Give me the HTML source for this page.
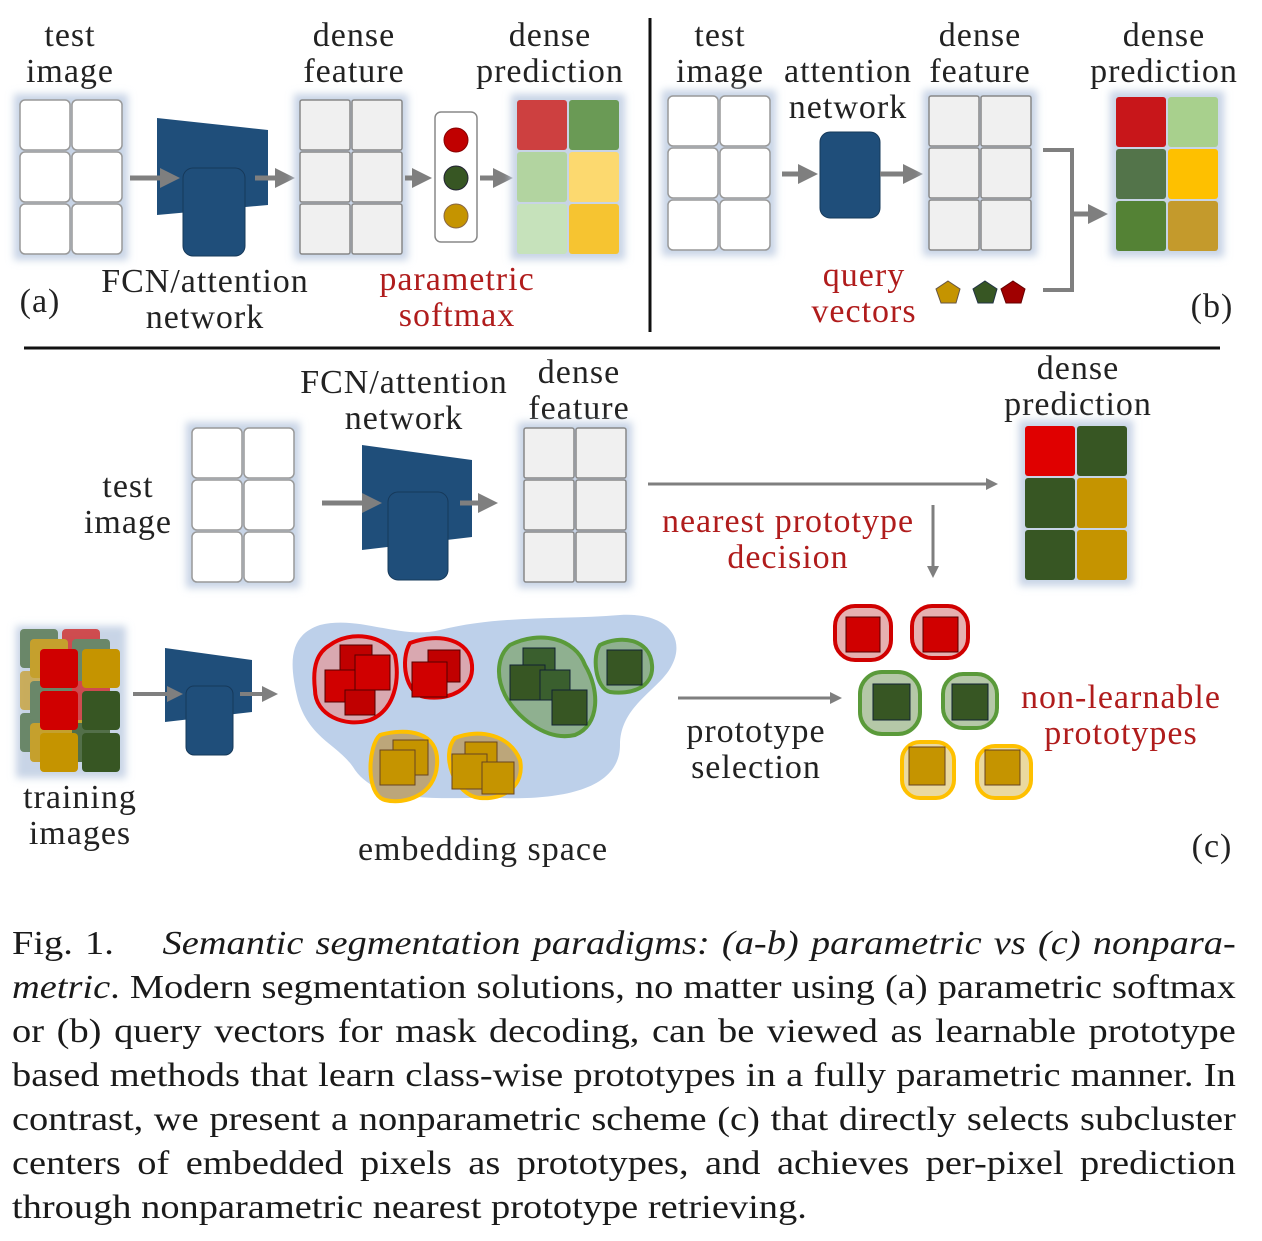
<!DOCTYPE html>
<html><head><meta charset="utf-8"><style>
html,body{margin:0;padding:0;background:#fff;}
body{width:1262px;height:1241px;position:relative;overflow:hidden;font-family:"Liberation Serif",serif;}
svg{position:absolute;left:0;top:0;}
.cap{position:absolute;left:12px;top:922px;width:1083px;font-size:34px;color:#1a1a1a;line-height:44px;transform:scaleX(1.13);transform-origin:0 0;}
.cap div{text-align:justify;text-align-last:justify;white-space:nowrap;height:44px;}
.cap div.last{text-align-last:left;}
</style></head><body>
<svg width="1262" height="900" viewBox="0 0 1262 900" font-family="Liberation Serif, serif" font-size="34" letter-spacing="1">
<defs>
<filter id="sh" x="-30%" y="-30%" width="160%" height="160%"><feGaussianBlur stdDeviation="4"/></filter>
<marker id="ah" markerWidth="4" markerHeight="4" refX="2" refY="2" orient="auto" markerUnits="strokeWidth"><path d="M0,0 L4,2 L0,4z" fill="#7f7f7f"/></marker>
<g id="cw"><rect width="50" height="50" rx="5" fill="#fff" stroke="#999" stroke-width="1.5"/></g>
<g id="cg"><rect width="50" height="50" rx="2" fill="#f0f0f0" stroke="#888" stroke-width="1.5"/></g>
</defs>
<g fill="#222" text-anchor="middle">
<text x="70" y="46">test</text><text x="70" y="82">image</text>
<text x="354" y="46">dense</text><text x="354" y="82">feature</text>
<text x="550" y="46">dense</text><text x="550" y="82">prediction</text>
<text x="205" y="292">FCN/attention</text><text x="205" y="328">network</text>
<text x="40" y="312">(a)</text>
<text x="720" y="46">test</text><text x="720" y="82">image</text>
<text x="848" y="82">attention</text><text x="848" y="118">network</text>
<text x="980" y="46">dense</text><text x="980" y="82">feature</text>
<text x="1164" y="46">dense</text><text x="1164" y="82">prediction</text>
<text x="1212" y="317">(b)</text>
<text x="404" y="393">FCN/attention</text><text x="404" y="429">network</text>
<text x="579" y="383">dense</text><text x="579" y="419">feature</text>
<text x="1078" y="379">dense</text><text x="1078" y="415">prediction</text>
<text x="128" y="497">test</text><text x="128" y="533">image</text>
<text x="80" y="808">training</text><text x="80" y="844">images</text>
<text x="483" y="860">embedding space</text>
<text x="756" y="742">prototype</text><text x="756" y="778">selection</text>
<text x="1212" y="857">(c)</text>
</g>
<g fill="#b01c1c" text-anchor="middle">
<text x="457" y="290">parametric</text><text x="457" y="326">softmax</text>
<text x="864" y="286">query</text><text x="864" y="322">vectors</text>
<text x="788" y="532">nearest prototype</text><text x="788" y="568">decision</text>
<text x="1121" y="708">non-learnable</text><text x="1121" y="744">prototypes</text>
</g>
<line x1="650" y1="18" x2="650" y2="332" stroke="#111" stroke-width="3"/>
<line x1="24" y1="348" x2="1220" y2="348" stroke="#111" stroke-width="3"/>

<!-- (a) -->
<rect x="14" y="94" width="114" height="166" fill="#c8d4e6" filter="url(#sh)"/>
<use href="#cw" x="20" y="100"/><use href="#cw" x="72" y="100"/>
<use href="#cw" x="20" y="152"/><use href="#cw" x="72" y="152"/>
<use href="#cw" x="20" y="204"/><use href="#cw" x="72" y="204"/>
<polygon points="157,118 268,130 268,205 157,215" fill="#1f4e7a"/>
<rect x="183" y="168" width="62" height="88" rx="10" fill="#1f4e7a" stroke="#16395a"/>
<line x1="130" y1="178" x2="170" y2="178" stroke="#7f7f7f" stroke-width="5" marker-end="url(#ah)"/>
<line x1="255" y1="178" x2="285" y2="178" stroke="#7f7f7f" stroke-width="5" marker-end="url(#ah)"/>
<rect x="294" y="94" width="114" height="166" fill="#c8d4e6" filter="url(#sh)"/>
<use href="#cg" x="300" y="100"/><use href="#cg" x="352" y="100"/>
<use href="#cg" x="300" y="152"/><use href="#cg" x="352" y="152"/>
<use href="#cg" x="300" y="204"/><use href="#cg" x="352" y="204"/>
<line x1="405" y1="178" x2="422" y2="178" stroke="#7f7f7f" stroke-width="5" marker-end="url(#ah)"/>
<rect x="435" y="112" width="42" height="130" rx="6" fill="#fff" stroke="#888" stroke-width="1.5"/>
<circle cx="456" cy="140" r="12" fill="#c00000" stroke="#800"/>
<circle cx="456" cy="178" r="12" fill="#375623" stroke="#223"/>
<circle cx="456" cy="216" r="12" fill="#c59400" stroke="#864"/>
<line x1="480" y1="178" x2="503" y2="178" stroke="#7f7f7f" stroke-width="5" marker-end="url(#ah)"/>
<rect x="511" y="94" width="114" height="166" fill="#c8d4e6" filter="url(#sh)"/>
<rect x="517" y="100" width="50" height="50" rx="3" fill="#cd4040"/><rect x="569" y="100" width="50" height="50" rx="3" fill="#6a9a55"/>
<rect x="517" y="152" width="50" height="50" rx="3" fill="#b2d4a0"/><rect x="569" y="152" width="50" height="50" rx="3" fill="#fcd96f"/>
<rect x="517" y="204" width="50" height="50" rx="3" fill="#c6e2bb"/><rect x="569" y="204" width="50" height="50" rx="3" fill="#f6c431"/>

<!-- (b) -->
<rect x="662" y="90" width="114" height="166" fill="#c8d4e6" filter="url(#sh)"/>
<use href="#cw" x="668" y="96"/><use href="#cw" x="720" y="96"/>
<use href="#cw" x="668" y="148"/><use href="#cw" x="720" y="148"/>
<use href="#cw" x="668" y="200"/><use href="#cw" x="720" y="200"/>
<line x1="782" y1="174" x2="808" y2="174" stroke="#7f7f7f" stroke-width="5" marker-end="url(#ah)"/>
<rect x="820" y="132" width="60" height="86" rx="10" fill="#1f4e7a" stroke="#16395a"/>
<line x1="880" y1="174" x2="913" y2="174" stroke="#7f7f7f" stroke-width="5" marker-end="url(#ah)"/>
<rect x="923" y="90" width="114" height="166" fill="#c8d4e6" filter="url(#sh)"/>
<use href="#cg" x="929" y="96"/><use href="#cg" x="981" y="96"/>
<use href="#cg" x="929" y="148"/><use href="#cg" x="981" y="148"/>
<use href="#cg" x="929" y="200"/><use href="#cg" x="981" y="200"/>
<polyline points="1043,150 1072,150 1072,290 1043,290" fill="none" stroke="#7f7f7f" stroke-width="4"/>
<line x1="1072" y1="214" x2="1098" y2="214" stroke="#7f7f7f" stroke-width="5" marker-end="url(#ah)"/>
<rect x="1110" y="91" width="114" height="166" fill="#c8d4e6" filter="url(#sh)"/>
<rect x="1116" y="97" width="50" height="50" rx="3" fill="#c8161a"/><rect x="1168" y="97" width="50" height="50" rx="3" fill="#a8d08d"/>
<rect x="1116" y="149" width="50" height="50" rx="3" fill="#53744a"/><rect x="1168" y="149" width="50" height="50" rx="3" fill="#fec000"/>
<rect x="1116" y="201" width="50" height="50" rx="3" fill="#548235"/><rect x="1168" y="201" width="50" height="50" rx="3" fill="#c49a2c"/>
<polygon points="948,281 960,289 956,303 941,303 936,289" fill="#c59400" stroke="#654"/>
<polygon points="985,281 997,289 993,303 978,303 973,289" fill="#375623" stroke="#234"/>
<polygon points="1013,281 1025,289 1021,303 1006,303 1001,289" fill="#a00000" stroke="#600"/>

<!-- (c) -->
<rect x="186" y="422" width="114" height="166" fill="#c8d4e6" filter="url(#sh)"/>
<use href="#cw" x="192" y="428"/><use href="#cw" x="244" y="428"/>
<use href="#cw" x="192" y="480"/><use href="#cw" x="244" y="480"/>
<use href="#cw" x="192" y="532"/><use href="#cw" x="244" y="532"/>
<polygon points="362,445 472,460 472,537 362,550" fill="#1f4e7a"/>
<rect x="388" y="492" width="60" height="88" rx="10" fill="#1f4e7a" stroke="#16395a"/>
<line x1="322" y1="503" x2="372" y2="503" stroke="#7f7f7f" stroke-width="5" marker-end="url(#ah)"/>
<line x1="460" y1="503" x2="488" y2="503" stroke="#7f7f7f" stroke-width="5" marker-end="url(#ah)"/>
<rect x="518" y="422" width="114" height="166" fill="#c8d4e6" filter="url(#sh)"/>
<use href="#cg" x="524" y="428"/><use href="#cg" x="576" y="428"/>
<use href="#cg" x="524" y="480"/><use href="#cg" x="576" y="480"/>
<use href="#cg" x="524" y="532"/><use href="#cg" x="576" y="532"/>
<line x1="648" y1="484" x2="992" y2="484" stroke="#7f7f7f" stroke-width="3" marker-end="url(#ah)"/>
<line x1="933" y1="505" x2="933" y2="572" stroke="#7f7f7f" stroke-width="3" marker-end="url(#ah)"/>
<rect x="1019" y="420" width="114" height="166" fill="#c8d4e6" filter="url(#sh)"/>
<rect x="1025" y="426" width="50" height="50" rx="3" fill="#e00000"/><rect x="1077" y="426" width="50" height="50" rx="3" fill="#375623"/>
<rect x="1025" y="478" width="50" height="50" rx="3" fill="#375623"/><rect x="1077" y="478" width="50" height="50" rx="3" fill="#c59400"/>
<rect x="1025" y="530" width="50" height="50" rx="3" fill="#375623"/><rect x="1077" y="530" width="50" height="50" rx="3" fill="#c59400"/>

<!-- training stack -->
<rect x="16" y="626" width="110" height="152" fill="#c8d4e6" filter="url(#sh)"/>
<g opacity="0.8">
<rect x="20" y="629" width="38" height="39" rx="4" fill="#53744a"/><rect x="62" y="629" width="38" height="39" rx="4" fill="#d02a2a"/>
<rect x="20" y="671" width="38" height="39" rx="4" fill="#c9a33a"/><rect x="62" y="671" width="38" height="39" rx="4" fill="#53744a"/>
<rect x="20" y="713" width="38" height="39" rx="4" fill="#53744a"/><rect x="62" y="713" width="38" height="39" rx="4" fill="#c59400"/>
<rect x="30" y="639" width="38" height="39" rx="4" fill="#c59400"/><rect x="72" y="639" width="38" height="39" rx="4" fill="#53744a"/>
<rect x="30" y="681" width="38" height="39" rx="4" fill="#53744a"/><rect x="72" y="681" width="38" height="39" rx="4" fill="#d02a2a"/>
<rect x="30" y="723" width="38" height="39" rx="4" fill="#c59400"/><rect x="72" y="723" width="38" height="39" rx="4" fill="#375623"/>
</g>
<rect x="40" y="649" width="38" height="39" rx="4" fill="#d00000"/><rect x="82" y="649" width="38" height="39" rx="4" fill="#c59400"/>
<rect x="40" y="691" width="38" height="39" rx="4" fill="#d00000"/><rect x="82" y="691" width="38" height="39" rx="4" fill="#375623"/>
<rect x="40" y="733" width="38" height="39" rx="4" fill="#c59400"/><rect x="82" y="733" width="38" height="39" rx="4" fill="#375623"/>
<polygon points="165,648 252,660 252,712 165,722" fill="#1f4e7a"/>
<rect x="186" y="686" width="47" height="69" rx="8" fill="#1f4e7a" stroke="#16395a"/>
<line x1="133" y1="694" x2="175" y2="694" stroke="#7f7f7f" stroke-width="4" marker-end="url(#ah)"/>
<line x1="240" y1="694" x2="270" y2="694" stroke="#7f7f7f" stroke-width="4" marker-end="url(#ah)"/>

<!-- embedding blob -->
<path d="M320,625 C360,615 400,640 440,630 C500,615 560,620 620,615 C670,612 685,640 672,665 C660,690 620,705 620,745 C620,790 560,800 500,798 C440,797 380,805 355,770 C340,745 310,740 298,700 C288,660 290,635 320,625Z" fill="#bdd0ea"/>
<g stroke-width="4">
<path d="M330,645 C350,630 385,635 395,655 C400,680 395,710 370,720 C345,728 315,715 315,690 C312,665 318,652 330,645Z" fill="#d9a8b0" stroke="#e00000"/>
<path d="M410,643 C440,632 470,640 472,665 C474,690 450,700 425,697 C405,694 400,660 410,643Z" fill="#d9a8b0" stroke="#e00000"/>
<path d="M510,645 C540,630 575,638 585,665 C600,690 600,725 575,735 C545,742 515,715 505,695 C495,675 498,655 510,645Z" fill="#8fb090" stroke="#5a9a3a"/>
<path d="M600,645 C620,635 650,638 652,665 C654,688 630,695 610,692 C595,688 592,655 600,645Z" fill="#8fb090" stroke="#5a9a3a"/>
<path d="M380,735 C405,728 440,730 437,765 C435,795 405,805 385,800 C365,795 368,745 380,735Z" fill="#bca67a" stroke="#fec000"/>
<path d="M455,738 C480,728 510,735 520,760 C525,785 505,800 480,798 C455,796 440,755 455,738Z" fill="#bca67a" stroke="#fec000"/>
</g>
<g stroke="#500" stroke-width="1">
<rect x="340" y="645" width="32" height="32" fill="#c00000"/><rect x="325" y="670" width="32" height="32" fill="#d00000"/>
<rect x="355" y="655" width="35" height="35" fill="#d00000"/><rect x="345" y="690" width="30" height="25" fill="#c00000"/>
<rect x="428" y="650" width="32" height="32" fill="#c00000"/><rect x="412" y="662" width="35" height="35" fill="#d00000"/>
</g>
<g stroke="#123" stroke-width="1">
<rect x="523" y="648" width="32" height="32" fill="#3a5f2e"/><rect x="510" y="665" width="35" height="35" fill="#375623"/>
<rect x="540" y="670" width="30" height="30" fill="#3a5f2e"/><rect x="552" y="690" width="35" height="35" fill="#375623"/>
<rect x="607" y="650" width="35" height="35" fill="#375623"/>
</g>
<g stroke="#642" stroke-width="1">
<rect x="393" y="740" width="35" height="35" fill="#c59400"/><rect x="380" y="750" width="35" height="35" fill="#c59400"/>
<rect x="465" y="742" width="32" height="32" fill="#c59400"/><rect x="452" y="754" width="35" height="35" fill="#c59400"/><rect x="482" y="762" width="32" height="32" fill="#c59400"/>
</g>
<line x1="678" y1="698" x2="836" y2="698" stroke="#7f7f7f" stroke-width="3" marker-end="url(#ah)"/>

<!-- prototypes -->
<g stroke-width="4">
<rect x="835" y="606" width="56" height="54" rx="20" fill="#e6b0b0" stroke="#d00000"/>
<rect x="912" y="606" width="56" height="52" rx="20" fill="#e6b0b0" stroke="#d00000"/>
<rect x="860" y="672" width="60" height="62" rx="22" fill="#b5c8a8" stroke="#5a9a3a"/>
<rect x="943" y="674" width="54" height="54" rx="20" fill="#b5c8a8" stroke="#5a9a3a"/>
<rect x="902" y="742" width="52" height="56" rx="18" fill="#ead9a0" stroke="#fec000"/>
<rect x="977" y="746" width="54" height="52" rx="18" fill="#ead9a0" stroke="#fec000"/>
</g>
<rect x="846" y="617" width="34" height="35" fill="#d00000" stroke="#500"/>
<rect x="923" y="617" width="35" height="35" fill="#d00000" stroke="#500"/>
<rect x="873" y="684" width="37" height="36" fill="#375623" stroke="#123"/>
<rect x="952" y="684" width="36" height="36" fill="#375623" stroke="#123"/>
<rect x="909" y="747" width="36" height="38" fill="#c59400" stroke="#642"/>
<rect x="985" y="750" width="35" height="35" fill="#c59400" stroke="#642"/>
</svg>
<div class="cap">
<div>Fig. 1.&nbsp;&nbsp;&nbsp; <i>Semantic segmentation paradigms: (a-b) parametric vs (c) nonpara-</i></div>
<div><i>metric</i>. Modern segmentation solutions, no matter using (a) parametric softmax</div>
<div>or (b) query vectors for mask decoding, can be viewed as learnable prototype</div>
<div>based methods that learn class-wise prototypes in a fully parametric manner. In</div>
<div>contrast, we present a nonparametric scheme (c) that directly selects subcluster</div>
<div>centers of embedded pixels as prototypes, and achieves per-pixel prediction</div>
<div class="last">through nonparametric nearest prototype retrieving.</div>
</div>
</body></html>
